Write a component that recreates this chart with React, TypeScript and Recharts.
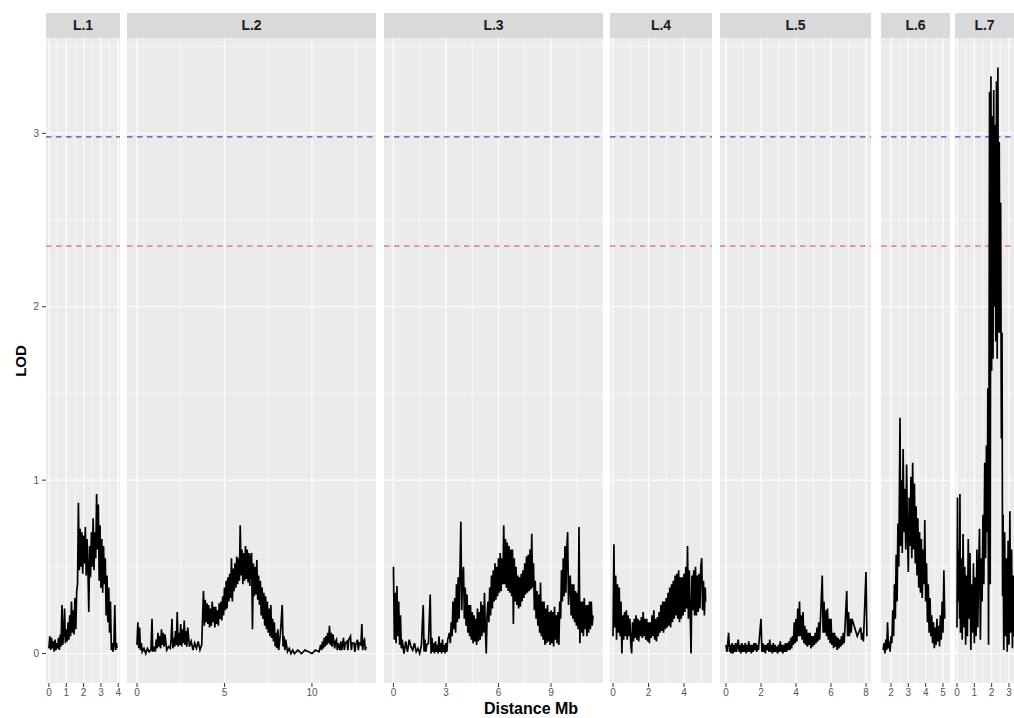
import React from 'react'
import { LineChart, Line, XAxis, YAxis, CartesianGrid, ReferenceLine } from 'recharts'

// LOD scans per linkage group: [position Mb, LOD]
const lodL1: [number, number][] = [
  [0, .03], [.05, .1], [.1, .02], [.15, .09], [.2, .03], [.25, .07], [.3, .01], [.35, .08], [.4, .02], [.45, .06],
  [.5, .03], [.55, .09], [.6, .02], [.65, .11], [.7, .04], [.75, .28], [.8, .05], [.85, .12], [.9, .26], [.95, .06],
  [1, .14], [1.05, .07], [1.1, .18], [1.15, .08], [1.2, .22], [1.25, .1], [1.3, .3], [1.35, .12], [1.4, .25], [1.45, .11],
  [1.5, .32], [1.55, .14], [1.6, .36], [1.65, .4], [1.7, .87], [1.75, .48], [1.8, .72], [1.85, .5], [1.9, .7], [1.95, .46],
  [2, .68], [2.05, .52], [2.1, .73], [2.15, .45], [2.2, .66], [2.25, .49], [2.3, .24], [2.35, .62], [2.4, .44], [2.45, .7],
  [2.5, .5], [2.55, .78], [2.6, .48], [2.65, .7], [2.7, .55], [2.75, .92], [2.8, .6], [2.85, .86], [2.9, .42], [2.95, .74],
  [3, .38], [3.05, .66], [3.1, .35], [3.15, .62], [3.2, .4], [3.25, .55], [3.3, .22], [3.35, .45], [3.4, .18], [3.45, .38],
  [3.5, .12], [3.55, .3], [3.6, .02], [3.65, .06], [3.7, .01], [3.75, .05], [3.8, .28], [3.85, .02], [3.9, .06], [3.92, .03],
]

const lodL2: [number, number][] = [
  [0, .05], [.05, .18], [.1, .03], [.15, .15], [.2, .02], [.25, .06], [.3, .01], [.4, .03], [.5, 0], [.6, .03], [.7, .01],
  [.8, .02], [.86, .2], [.9, .01], [1, .04], [1.05, .01], [1.1, .08], [1.15, .03], [1.2, .12], [1.25, .04], [1.3, .1],
  [1.35, .03], [1.4, .14], [1.45, .05], [1.5, .12], [1.55, .04], [1.6, .11], [1.7, .02], [1.8, .04], [1.9, .03], [1.95, .08],
  [2, .2], [2.05, .03], [2.1, .09], [2.15, .04], [2.2, .13], [2.25, .05], [2.3, .24], [2.35, .04], [2.4, .12], [2.45, .05],
  [2.5, .17], [2.55, .04], [2.6, .14], [2.65, .06], [2.7, .19], [2.75, .05], [2.8, .13], [2.85, .04], [2.9, .15], [3, .04],
  [3.1, .07], [3.2, .02], [3.3, .06], [3.4, .03], [3.5, .07], [3.6, .02], [3.7, .05], [3.8, .36], [3.85, .16], [3.9, .31],
  [3.95, .18], [4, .29], [4.05, .17], [4.1, .28], [4.15, .15], [4.2, .26], [4.25, .16], [4.3, .3], [4.35, .18], [4.4, .27],
  [4.45, .15], [4.5, .27], [4.55, .17], [4.6, .25], [4.65, .16], [4.7, .29], [4.75, .2], [4.8, .3], [4.85, .19], [4.9, .33],
  [4.95, .22], [5, .38], [5.05, .25], [5.1, .42], [5.15, .26], [5.2, .44], [5.25, .3], [5.3, .46], [5.35, .32], [5.4, .55],
  [5.45, .3], [5.5, .49], [5.55, .36], [5.6, .52], [5.65, .38], [5.7, .56], [5.75, .4], [5.8, .55], [5.85, .42], [5.9, .74],
  [5.95, .45], [6, .6], [6.05, .4], [6.1, .58], [6.15, .42], [6.2, .62], [6.25, .43], [6.3, .6], [6.35, .41], [6.4, .58],
  [6.45, .39], [6.5, .56], [6.55, .58], [6.6, .14], [6.65, .52], [6.7, .33], [6.75, .5], [6.8, .34], [6.85, .54], [6.9, .31],
  [6.95, .45], [7, .28], [7.05, .42], [7.1, .22], [7.15, .38], [7.2, .2], [7.25, .35], [7.3, .16], [7.35, .33], [7.4, .14],
  [7.45, .3], [7.5, .12], [7.55, .26], [7.6, .1], [7.65, .28], [7.7, .09], [7.75, .2], [7.8, .07], [7.85, .18], [7.9, .04],
  [7.95, .12], [8, .03], [8.05, .14], [8.1, .02], [8.2, .12], [8.3, .28], [8.35, .04], [8.4, .1], [8.45, .02], [8.5, .08],
  [8.6, .01], [8.7, .03], [8.8, 0], [8.9, .02], [9, 0], [9.2, .02], [9.4, 0], [9.6, .02], [9.8, .01], [10, 0],
  [10.2, .02], [10.4, .01], [10.5, .05], [10.55, .02], [10.6, .07], [10.65, .03], [10.7, .09], [10.75, .04], [10.8, .1], [10.85, .05],
  [10.9, .12], [10.95, .06], [11, .16], [11.05, .05], [11.1, .12], [11.15, .04], [11.2, .11], [11.3, .03], [11.35, .07], [11.4, .08],
  [11.45, .02], [11.5, .06], [11.6, .02], [11.65, .07], [11.7, .02], [11.8, .09], [11.85, .02], [11.9, .06], [12, .07], [12.05, .02],
  [12.1, .08], [12.2, .1], [12.25, .02], [12.3, .06], [12.4, .06], [12.45, .01], [12.5, .05], [12.6, .08], [12.65, .02], [12.7, .06],
  [12.8, .05], [12.85, .17], [12.9, .02], [12.95, .07], [13, .08], [13.05, .02], [13.1, .04],
]

const lodL3: [number, number][] = [
  [0, .5], [.05, .08], [.1, .35], [.15, .06], [.2, .39], [.25, .1], [.3, .3], [.35, .05], [.4, .22], [.45, .03],
  [.5, .08], [.6, 0], [.7, .07], [.8, .01], [.9, .08], [1, .04], [1.1, .02], [1.2, .06], [1.3, .01], [1.4, .03],
  [1.5, 0], [1.6, .05], [1.7, .28], [1.75, .01], [1.8, .08], [1.85, .01], [1.9, .05], [2, .06], [2.1, .34], [2.15, 0],
  [2.2, .09], [2.25, .01], [2.3, .06], [2.35, .0], [2.4, .07], [2.45, .01], [2.5, .05], [2.55, .0], [2.6, .1], [2.65, .01],
  [2.7, .06], [2.75, .0], [2.8, .08], [2.85, .01], [2.9, .05], [2.95, .0], [3, .06], [3.05, .01], [3.1, .08], [3.2, .12],
  [3.25, .06], [3.3, .18], [3.35, .1], [3.4, .3], [3.45, .14], [3.5, .32], [3.55, .12], [3.6, .4], [3.65, .18], [3.7, .44],
  [3.75, .2], [3.8, .48], [3.85, .76], [3.9, .25], [3.95, .45], [4, .5], [4.05, .2], [4.1, .38], [4.15, .16], [4.2, .34],
  [4.25, .12], [4.3, .28], [4.35, .1], [4.4, .28], [4.45, .08], [4.5, .24], [4.55, .06], [4.6, .22], [4.65, .07], [4.7, .2],
  [4.75, .05], [4.8, .26], [4.85, .07], [4.9, .24], [4.95, .08], [5, .3], [5.05, .1], [5.1, .28], [5.15, .12], [5.2, .35],
  [5.25, .14], [5.3, 0], [5.35, .22], [5.4, .3], [5.45, .18], [5.5, .38], [5.55, .22], [5.6, .45], [5.65, .26], [5.7, .48],
  [5.75, .3], [5.8, .52], [5.85, .31], [5.9, .5], [5.95, .33], [6, .55], [6.05, .35], [6.1, .58], [6.15, .36], [6.2, .55],
  [6.25, .4], [6.3, .74], [6.35, .4], [6.4, .66], [6.45, .38], [6.5, .64], [6.55, .36], [6.6, .62], [6.65, .35], [6.7, .6],
  [6.75, .33], [6.8, .6], [6.85, .17], [6.9, .55], [6.95, .3], [7, .5], [7.05, .28], [7.1, .45], [7.15, .26], [7.2, .44],
  [7.25, .27], [7.3, .46], [7.35, .3], [7.4, .48], [7.45, .32], [7.5, .52], [7.55, .34], [7.6, .56], [7.65, .35], [7.7, .57],
  [7.75, .36], [7.8, .6], [7.85, .37], [7.9, .69], [7.95, .38], [8, .52], [8.05, .25], [8.1, .42], [8.15, .2], [8.2, .36],
  [8.25, .16], [8.3, .34], [8.35, .12], [8.4, .41], [8.45, .1], [8.5, .3], [8.55, .08], [8.6, .3], [8.65, .05], [8.7, .26],
  [8.75, .06], [8.8, .28], [8.85, .07], [8.9, .24], [8.95, .05], [9, .25], [9.05, .06], [9.1, .24], [9.15, .04], [9.2, .27],
  [9.25, .08], [9.3, .22], [9.35, .06], [9.4, .24], [9.45, .05], [9.5, .3], [9.55, .2], [9.6, .48], [9.65, .3], [9.7, .55],
  [9.75, .33], [9.8, .62], [9.85, .35], [9.9, .6], [9.95, .7], [10, .28], [10.05, .42], [10.1, .45], [10.15, .22], [10.2, .4],
  [10.25, .2], [10.3, .4], [10.35, .18], [10.4, .36], [10.45, .16], [10.5, .35], [10.55, .14], [10.6, .73], [10.65, .06], [10.7, .3],
  [10.75, .12], [10.8, .3], [10.85, .1], [10.9, .32], [10.95, .14], [11, .28], [11.05, .1], [11.1, .28], [11.15, .12], [11.2, .3],
  [11.25, .14], [11.3, .3], [11.35, .16], [11.4, .22],
]

const lodL4: [number, number][] = [
  [0, .1], [.05, .63], [.1, .15], [.15, .45], [.2, .08], [.25, .4], [.3, .12], [.35, .38], [.4, .1], [.45, .3],
  [.5, 0], [.55, .22], [.6, .08], [.65, .24], [.7, .1], [.75, .25], [.8, .08], [.85, .22], [.9, .1], [.95, .2],
  [1, .06], [1.05, 0], [1.1, .18], [1.15, .07], [1.2, .2], [1.25, .09], [1.3, .22], [1.35, .08], [1.4, .2], [1.45, .07],
  [1.5, .19], [1.55, .1], [1.6, .21], [1.65, .09], [1.7, .24], [1.75, .1], [1.8, .2], [1.85, .08], [1.9, .2], [1.95, .07],
  [2, .18], [2.05, .06], [2.1, .18], [2.15, .09], [2.2, .22], [2.25, .1], [2.3, .25], [2.35, .08], [2.4, .2], [2.45, .07],
  [2.5, .21], [2.55, .1], [2.6, .24], [2.65, .12], [2.7, .28], [2.75, .13], [2.8, .3], [2.85, .12], [2.9, .3], [2.95, .14],
  [3, .32], [3.05, .15], [3.1, .35], [3.15, .16], [3.2, .38], [3.25, .15], [3.3, .4], [3.35, .18], [3.4, .42], [3.45, .2],
  [3.5, .45], [3.55, .22], [3.6, .46], [3.65, .2], [3.7, .48], [3.75, .18], [3.8, .44], [3.85, .2], [3.9, .44], [3.95, .22],
  [4, .46], [4.05, .24], [4.1, .5], [4.15, .26], [4.2, .62], [4.25, .2], [4.3, .48], [4.35, .24], [4.4, 0], [4.45, .45],
  [4.5, .25], [4.55, .48], [4.6, .22], [4.65, .5], [4.7, .22], [4.75, .45], [4.8, .24], [4.85, .46], [4.9, .26], [4.95, .5],
  [5, .55], [5.05, .25], [5.1, .42], [5.15, .22], [5.2, .38], [5.22, .3],
]

const lodL5: [number, number][] = [
  [0, .05], [.05, .01], [.1, .06], [.15, .12], [.2, .01], [.25, .05], [.3, .0], [.35, .06], [.4, 0], [.45, .05],
  [.5, .01], [.55, .06], [.6, .01], [.65, .05], [.7, .08], [.75, .01], [.8, .05], [.85, 0], [.9, .06], [.95, .01],
  [1, .05], [1.05, .01], [1.1, .06], [1.15, 0], [1.2, .05], [1.25, .01], [1.3, .07], [1.35, .01], [1.4, .05], [1.45, 0],
  [1.5, .05], [1.55, .01], [1.6, .06], [1.65, .02], [1.7, .06], [1.75, .01], [1.8, .05], [1.85, .02], [1.9, .08], [2, .2],
  [2.05, .01], [2.1, .06], [2.15, .01], [2.2, .05], [2.25, 0], [2.3, .05], [2.35, .02], [2.4, .06], [2.45, .01], [2.5, .08],
  [2.55, .01], [2.6, .05], [2.65, 0], [2.7, .06], [2.75, .01], [2.8, .05], [2.85, .01], [2.9, .04], [2.95, 0], [3, .05],
  [3.05, .01], [3.1, .07], [3.15, .01], [3.2, .05], [3.25, .0], [3.3, .05], [3.35, .01], [3.4, .06], [3.45, .01], [3.5, .06],
  [3.55, .02], [3.6, .07], [3.65, .02], [3.7, .09], [3.75, .03], [3.8, .1], [3.85, .05], [3.9, .18], [3.95, .06], [4, .2],
  [4.05, .07], [4.1, .26], [4.15, .1], [4.2, .3], [4.25, .1], [4.3, .22], [4.35, .08], [4.4, .24], [4.45, .06], [4.5, .16],
  [4.55, .05], [4.6, .14], [4.65, .04], [4.7, .12], [4.75, .05], [4.8, .12], [4.85, .03], [4.9, .1], [4.95, .04], [5, .1],
  [5.05, .05], [5.1, .12], [5.15, .06], [5.2, .15], [5.25, .07], [5.3, .18], [5.35, .08], [5.4, .2], [5.5, .45], [5.55, .12],
  [5.6, .3], [5.65, .12], [5.7, .25], [5.75, .1], [5.8, .26], [5.85, .08], [5.9, .2], [5.95, .06], [6, .2], [6.05, .05],
  [6.1, .12], [6.15, .03], [6.2, .12], [6.25, .04], [6.3, .1], [6.35, .02], [6.4, .09], [6.45, .03], [6.5, .08], [6.55, .04],
  [6.6, .1], [6.65, .05], [6.7, .12], [6.75, .06], [6.8, .15], [6.9, .36], [6.95, .1], [7, .24], [7.05, .1], [7.1, .2],
  [7.15, .12], [7.2, .2], [7.5, .1], [7.7, .15], [7.75, .08], [7.8, .12], [7.85, .07], [7.9, .2], [8, .47], [8.05, .1],
]

const lodL6: [number, number][] = [
  [1.55, .02], [1.6, .06], [1.65, 0], [1.7, .08], [1.75, .02], [1.8, .18], [1.85, .03], [1.9, .07], [1.95, .01], [2, .1],
  [2.05, .06], [2.1, .25], [2.15, .1], [2.2, .4], [2.25, .2], [2.3, .57], [2.35, .3], [2.4, .75], [2.45, .5], [2.52, 1.36],
  [2.56, .62], [2.6, 1], [2.65, .58], [2.7, 1.18], [2.75, .7], [2.8, .95], [2.85, .6], [2.9, 1.09], [2.95, .68], [3, .47],
  [3.05, .9], [3.1, .62], [3.15, 1.02], [3.2, .55], [3.25, 1.1], [3.3, .6], [3.35, .98], [3.4, .52], [3.45, .85], [3.5, .45],
  [3.55, .78], [3.6, .38], [3.65, .7], [3.7, .35], [3.75, .66], [3.8, .32], [3.85, .6], [3.9, .4], [3.95, .77], [4, .3],
  [4.05, .52], [4.1, .18], [4.15, .4], [4.2, .12], [4.25, .32], [4.3, .1], [4.35, .22], [4.4, .06], [4.45, .18], [4.5, .03],
  [4.55, .15], [4.6, .05], [4.65, .2], [4.7, .07], [4.75, .16], [4.8, .04], [4.85, .22], [4.9, .08], [4.95, .3], [5, .12],
  [5.05, .48], [5.1, .2],
]

const lodL7: [number, number][] = [
  [0, .15], [.03, .9], [.06, .3], [.1, .6], [.15, .2], [.17, .92], [.2, .12], [.25, .55], [.3, .08], [.35, .69],
  [.4, .15], [.45, .5], [.5, .05], [.55, .45], [.6, .1], [.65, .66], [.7, .2], [.75, .58], [.8, .02], [.85, .4],
  [.9, .12], [.95, .52], [1, .06], [1.05, .44], [1.1, .1], [1.15, .6], [1.2, .15], [1.25, .5], [1.3, .72], [1.35, .08],
  [1.4, .55], [1.45, .3], [1.5, .8], [1.55, .4], [1.6, 1.1], [1.65, .55], [1.7, 1.2], [1.75, .7], [1.78, 1.53], [1.82, .05],
  [1.88, 3.24], [1.92, .4], [1.96, 3.33], [2, 1.63], [2.04, 3.1], [2.08, 1.7], [2.12, 3.25], [2.16, 2], [2.2, 3.05], [2.24, 1.8],
  [2.28, 3.3], [2.32, 1.7], [2.36, 3.38], [2.4, 1.85], [2.44, 2.95], [2.48, 1.85], [2.52, 2.6], [2.56, 1.24], [2.6, 1.85], [2.63, .33],
  [2.66, .8], [2.7, .02], [2.75, .7], [2.8, .1], [2.85, .55], [2.9, .01], [2.95, .65], [3, .05], [3.05, .82], [3.1, .12],
  [3.15, .6], [3.2, .03], [3.25, .45], [3.28, .1],
]

const groupNames = ['L.1', 'L.2', 'L.3', 'L.4', 'L.5', 'L.6', 'L.7']
const majorTicks = [[0, 1, 2, 3, 4], [0, 5, 10], [0, 3, 6, 9], [0, 2, 4], [0, 2, 4, 6, 8], [2, 3, 4, 5], [0, 1, 2, 3]]
const minorTicks = [[0.5, 1.5, 2.5, 3.5], [2.5, 7.5, 12.5], [1.5, 4.5, 7.5, 10.5], [1, 3, 5], [1, 3, 5, 7], [2.5, 3.5, 4.5], [0.5, 1.5, 2.5]]
const xDomains = [[-0.17, 4.1], [-0.57, 13.66], [-0.54, 11.97], [-0.17, 5.58], [-0.343, 8.286], [1.423, 5.404], [-0.115, 3.29]]
const scans = [lodL1, lodL2, lodL3, lodL4, lodL5, lodL6, lodL7]

const yTicks = [0, 1, 2, 3]
const yMinor = [0.5, 1.5, 2.5, 3.5]
const yDomain = [-0.17, 3.55]
const thresholdHigh = 2.98
const thresholdLow = 2.35

// panel placement on the page (plot area left / width, px)
const panelLeft = [46, 127, 384, 610, 720, 881, 955]
const panelWidth = [74, 249, 219, 102, 151, 69, 59]
const plotTop = 38
const plotHeight = 645
const axisHeight = 30
const yAxisWidth = 46
const pad = 6

const font = '"Liberation Sans", Arial, sans-serif'

const Panel = ({ i }: { i: number }) => {
  const first = i === 0
  const data = scans[i].map(([x, y]) => ({ x, y }))
  const left = first ? 0 : panelLeft[i] - pad
  const width = first ? yAxisWidth + panelWidth[i] + pad : panelWidth[i] + 2 * pad
  return (
    <div style={{ position: 'absolute', left, top: plotTop }}>
      <LineChart
        width={width}
        height={plotHeight + axisHeight}
        data={data}
        margin={{ top: 0, right: pad, bottom: 0, left: first ? 0 : pad }}
      >
        <CartesianGrid fill="#ebebeb" stroke="none" horizontal={false} vertical={false} />
        <XAxis
          dataKey="x"
          type="number"
          domain={xDomains[i]}
          allowDataOverflow
          ticks={majorTicks[i]}
          interval={0}
          height={axisHeight}
          axisLine={false}
          tickLine={{ stroke: '#333333' }}
          tickSize={4}
          tickMargin={2}
          tick={{ fill: '#555555', fontSize: 10, fontFamily: font }}
        />
        <YAxis
          type="number"
          domain={yDomain}
          allowDataOverflow
          ticks={yTicks}
          interval={0}
          hide={!first}
          width={yAxisWidth}
          axisLine={false}
          tickLine={{ stroke: '#333333' }}
          tickSize={4}
          tickMargin={3}
          tick={{ fill: '#555555', fontSize: 10, fontFamily: font }}
        />
        {yMinor.map(v => <ReferenceLine key={'ym' + v} y={v} stroke="#ffffff" strokeWidth={0.6} />)}
        {minorTicks[i].map(v => <ReferenceLine key={'xm' + v} x={v} stroke="#ffffff" strokeWidth={0.6} />)}
        {yTicks.map(v => <ReferenceLine key={'yM' + v} y={v} stroke="#ffffff" strokeWidth={1.2} />)}
        {majorTicks[i].map(v => <ReferenceLine key={'xM' + v} x={v} stroke="#ffffff" strokeWidth={1.2} />)}
        <ReferenceLine y={thresholdHigh} stroke="#4646d2" strokeWidth={1.1} strokeDasharray="5.5 4.5" />
        <ReferenceLine y={thresholdLow} stroke="#e04848" strokeWidth={1} strokeDasharray="5.5 4.5" />
        <Line
          dataKey="y"
          type="linear"
          stroke="#000000"
          strokeWidth={1.7}
          dot={false}
          isAnimationActive={false}
        />
      </LineChart>
    </div>
  )
}

export default function App() {
  return (
    <div style={{ position: 'absolute', left: 0, top: 0, width: 1014, height: 718, overflow: 'hidden', background: '#ffffff', fontFamily: font }}>
      {groupNames.map((name, i) => (
        <div
          key={name}
          style={{
            position: 'absolute', left: panelLeft[i], top: 13, width: panelWidth[i], height: 25,
            background: '#d9d9d9', color: '#1a1a1a', fontWeight: 'bold', fontSize: 14,
            lineHeight: '25px', textAlign: 'center',
          }}
        >
          {name}
        </div>
      ))}
      {groupNames.map((name, i) => <Panel key={'p' + name} i={i} />)}
      <svg width={1014} height={718} style={{ position: 'absolute', left: 0, top: 0, pointerEvents: 'none' }}>
        <text x={20} y={361} transform="rotate(-90 20 361)" textAnchor="middle" dominantBaseline="central"
          fontFamily={font} fontWeight="bold" fontSize={15} fill="#000">LOD</text>
        <text x={531} y={714} textAnchor="middle" fontFamily={font} fontWeight="bold" fontSize={16} fill="#000">Distance Mb</text>
      </svg>
    </div>
  )
}
